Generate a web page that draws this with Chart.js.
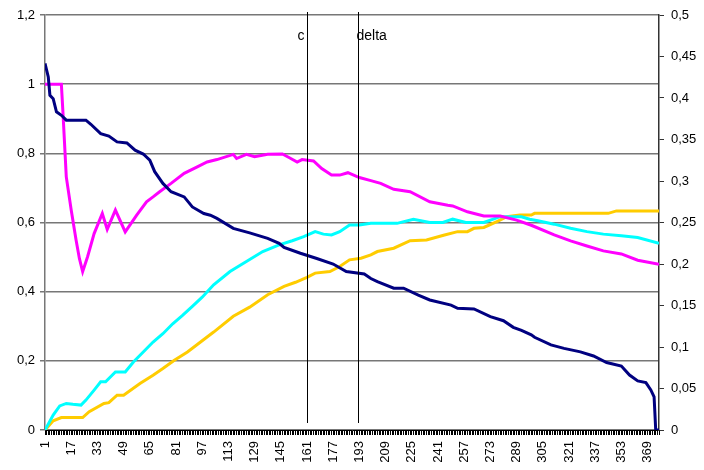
<!DOCTYPE html>
<html>
<head>
<meta charset="utf-8">
<script src="https://cdn.jsdelivr.net/npm/chart.js@4/dist/chart.umd.min.js"></script>
<style>
  html, body { margin: 0; padding: 0; background: #fff; }
  #wrap { width: 704px; height: 470px; position: relative; }
</style>
</head>
<body>
<div id="wrap"><canvas id="chart" width="704" height="470"></canvas></div>
<script>
// Number of categories along the x axis and the ones that carry a label
const categoryCount = 376;
const tickLabels = [1, 17, 33, 49, 65, 81, 97, 113, 129, 145, 161, 177, 193, 209, 225, 241, 257, 273, 289, 305, 321, 337, 353, 369];

// Left-axis series: [category, value]
const darkBlueSeries = [
  [1, 1.06], [3, 1.021], [4, 0.968], [6, 0.958], [8, 0.92], [11, 0.91], [14, 0.896], [26, 0.896],
  [29, 0.884], [35, 0.857], [40, 0.85], [45, 0.833], [51, 0.83], [56, 0.809], [61, 0.798], [65, 0.78],
  [68, 0.747], [73, 0.713], [78, 0.689], [86, 0.674], [91, 0.645], [98, 0.626], [102, 0.621], [106, 0.612],
  [116, 0.583], [126, 0.57], [137, 0.554], [144, 0.54], [147, 0.528], [157, 0.511], [167, 0.496], [177, 0.48],
  [185, 0.458], [196, 0.451], [200, 0.438], [204, 0.429], [214, 0.41], [220, 0.41], [229, 0.39], [236, 0.376],
  [249, 0.361], [253, 0.352], [263, 0.35], [273, 0.328], [281, 0.316], [287, 0.297], [292, 0.288], [298, 0.275],
  [300, 0.268], [310, 0.246], [318, 0.236], [328, 0.226], [336, 0.214], [344, 0.195], [353, 0.185], [358, 0.159],
  [363, 0.142], [368, 0.137], [371, 0.116], [373, 0.096], [374, 0], [376, 0]
];
const magentaSeries = [
  [1, 1], [11, 1], [12, 0.915], [14, 0.732], [17, 0.636], [20, 0.549], [22, 0.496], [24, 0.458],
  [27, 0.501], [31, 0.568], [36, 0.626], [39, 0.58], [44, 0.636], [50, 0.573], [57, 0.621], [63, 0.66],
  [67, 0.674], [71, 0.689], [78, 0.713], [86, 0.742], [94, 0.761], [100, 0.775], [106, 0.782], [116, 0.797],
  [118, 0.785], [124, 0.797], [129, 0.79], [137, 0.797], [146, 0.798], [150, 0.788], [155, 0.775], [158, 0.782],
  [165, 0.778], [170, 0.756], [176, 0.737], [181, 0.737], [186, 0.744], [193, 0.73], [200, 0.721], [206, 0.713],
  [214, 0.696], [224, 0.689], [236, 0.66], [247, 0.65], [250, 0.648], [259, 0.631], [269, 0.619], [279, 0.619],
  [289, 0.607], [298, 0.592], [312, 0.564], [322, 0.547], [332, 0.532], [342, 0.518], [353, 0.509], [363, 0.491],
  [376, 0.479]
];

// Right-axis series: [category, value]
const cyanSeries = [
  [1, 0], [6, 0.018], [10, 0.029], [14, 0.032], [18, 0.031], [23, 0.03], [26, 0.036], [31, 0.048],
  [35, 0.058], [38, 0.058], [44, 0.07], [50, 0.07], [55, 0.082], [61, 0.094], [67, 0.106], [73, 0.116],
  [79, 0.128], [85, 0.138], [91, 0.149], [97, 0.16], [104, 0.175], [114, 0.191], [124, 0.203], [134, 0.215],
  [144, 0.223], [152, 0.228], [159, 0.233], [166, 0.239], [171, 0.236], [176, 0.235], [181, 0.239], [187, 0.247],
  [193, 0.247], [200, 0.249], [206, 0.249], [216, 0.249], [226, 0.254], [236, 0.25], [244, 0.25], [250, 0.254],
  [258, 0.25], [269, 0.25], [279, 0.257], [287, 0.257], [292, 0.257], [297, 0.254], [302, 0.252], [312, 0.248],
  [322, 0.243], [332, 0.239], [342, 0.236], [353, 0.234], [363, 0.232], [376, 0.225]
];
const orangeSeries = [
  [1, 0], [6, 0.011], [11, 0.015], [24, 0.015], [28, 0.022], [37, 0.032], [40, 0.033], [45, 0.042],
  [49, 0.042], [59, 0.056], [67, 0.066], [73, 0.074], [80, 0.084], [88, 0.094], [96, 0.106], [104, 0.118],
  [116, 0.137], [126, 0.148], [137, 0.163], [147, 0.173], [154, 0.178], [161, 0.184], [166, 0.189], [175, 0.191],
  [181, 0.197], [187, 0.205], [194, 0.207], [200, 0.211], [204, 0.215], [214, 0.219], [224, 0.228], [234, 0.229],
  [245, 0.235], [253, 0.239], [259, 0.239], [263, 0.243], [269, 0.244], [277, 0.251], [283, 0.257], [291, 0.259],
  [298, 0.259], [300, 0.261], [345, 0.261], [350, 0.264], [376, 0.264]
];

// Vertical reference lines
const markerPositions = [161, 192];
const markerLabels = ['c', 'delta'];

const FONT = '"Liberation Sans", Arial, sans-serif';
const toPoints = (pairs) => pairs.map(([x, y]) => ({ x, y }));
const commaNumber = (v) => String(Number(v.toFixed(2))).replace('.', ',');

const markerPlugin = {
  id: 'markers',
  afterDatasetsDraw(chart) {
    const { ctx, chartArea, scales } = chart;
    ctx.save();
    ctx.strokeStyle = '#000';
    ctx.lineWidth = 1;
    ctx.fillStyle = '#000';
    ctx.font = '14px ' + FONT;
    ctx.textBaseline = 'middle';
    markerPositions.forEach((pos, i) => {
      const x = Math.round(scales.x.getPixelForValue(pos)) + 0.5;
      ctx.beginPath();
      ctx.moveTo(x, chartArea.top - 3);
      ctx.lineTo(x, chartArea.bottom - 7);
      ctx.stroke();
      if (i === 0) {
        ctx.textAlign = 'right';
        ctx.fillText(markerLabels[i], x - 3, 36);
      } else {
        ctx.textAlign = 'left';
        ctx.fillText(markerLabels[i], x - 2, 36);
      }
    });
    ctx.restore();
  }
};

const lineStyle = (color) => ({
  borderColor: color,
  backgroundColor: color,
  borderWidth: 3,
  pointRadius: 0,
  pointHoverRadius: 0,
  tension: 0,
  fill: false
});

new Chart(document.getElementById('chart'), {
  type: 'line',
  data: {
    datasets: [
      { data: toPoints(darkBlueSeries), yAxisID: 'y', ...lineStyle('#000080') },
      { data: toPoints(magentaSeries), yAxisID: 'y', ...lineStyle('#FF00FF') },
      { data: toPoints(cyanSeries), yAxisID: 'y1', ...lineStyle('#00FFFF') },
      { data: toPoints(orangeSeries), yAxisID: 'y1', ...lineStyle('#FFCC00') }
    ]
  },
  options: {
    responsive: false,
    animation: false,
    events: [],
    layout: { padding: { top: 15, left: 0, right: 0, bottom: 0 } },
    plugins: { legend: { display: false }, tooltip: { enabled: false }, title: { display: false } },
    scales: {
      x: {
        type: 'linear',
        min: 1,
        max: categoryCount,
        afterBuildTicks: (scale) => {
          scale.ticks = Array.from({ length: categoryCount }, (_, i) => ({ value: i + 1 }));
        },
        afterFit: (scale) => { scale.height = 40; },
        grid: { drawOnChartArea: false, drawTicks: true, tickLength: 5, color: '#000', lineWidth: 1 },
        border: { display: true, color: '#000', width: 1 },
        ticks: {
          autoSkip: false,
          minRotation: 90,
          maxRotation: 90,
          padding: 6,
          color: '#000',
          font: { family: FONT, size: 13 },
          callback: (v) => tickLabels.includes(v) ? String(v) : ''
        }
      },
      y: {
        position: 'left',
        min: 0,
        max: 1.2,
        afterFit: (scale) => { scale.width = 45; },
        grid: { drawOnChartArea: true, drawTicks: true, tickLength: 5, color: '#777', lineWidth: 1.5 },
        border: { display: true, color: '#777', width: 1.5 },
        ticks: {
          stepSize: 0.2,
          padding: 5,
          color: '#000',
          font: { family: FONT, size: 13 },
          callback: (v) => commaNumber(v)
        }
      },
      y1: {
        position: 'right',
        min: 0,
        max: 0.5,
        afterFit: (scale) => { scale.width = 45; },
        grid: { drawOnChartArea: false, drawTicks: true, tickLength: 5, color: '#333', lineWidth: 1 },
        border: { display: true, color: '#333', width: 1.5 },
        ticks: {
          stepSize: 0.05,
          padding: 7,
          color: '#000',
          font: { family: FONT, size: 13 },
          callback: (v) => commaNumber(v)
        }
      }
    }
  },
  plugins: [markerPlugin]
});
</script>
</body>
</html>
